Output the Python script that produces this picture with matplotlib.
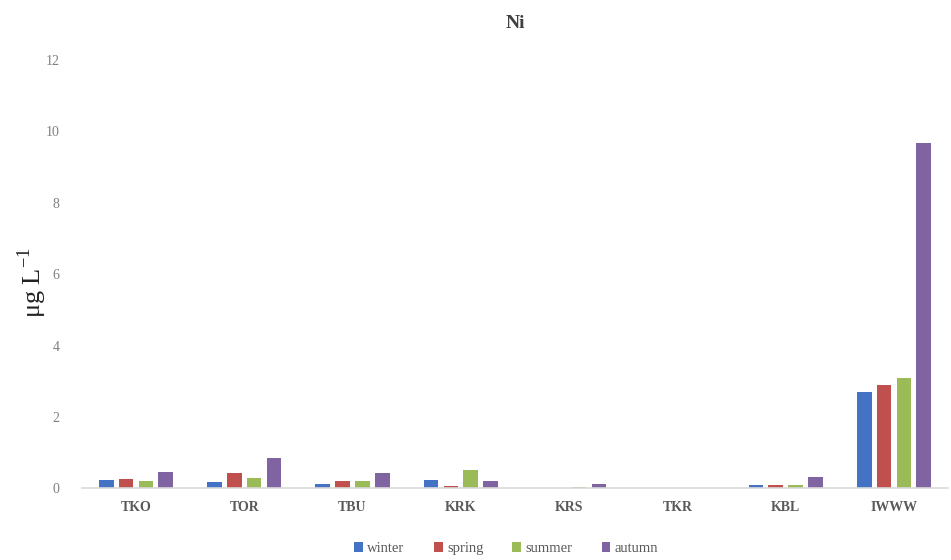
import numpy as np
import matplotlib.pyplot as plt

plt.rcParams["font.family"] = ["Liberation Serif", "DejaVu Serif"]

sites = ["TKO", "TOR", "TBU", "KRK", "KRS", "TKR", "KBL", "IWWW"]
seasons = ["winter", "spring", "summer", "autumn"]
winter = [0.24, 0.19, 0.11, 0.22, 0.0, 0.0, 0.09, 2.70]
spring = [0.25, 0.43, 0.20, 0.06, 0.0, 0.0, 0.09, 2.89]
summer = [0.20, 0.30, 0.20, 0.52, 0.03, 0.0, 0.09, 3.09]
autumn = [0.45, 0.86, 0.43, 0.20, 0.13, 0.0, 0.32, 9.66]
colors = ["#4472C4", "#C0504D", "#9BBB59", "#8064A2"]

fig = plt.figure(figsize=(9.51, 5.6), dpi=100)
ax = fig.add_axes([0.086, 0.128, 0.911, 0.765])

x = np.arange(len(sites))
stride = 0.183
width = 0.135
for i, (vals, name) in enumerate(zip([winter, spring, summer, autumn], seasons)):
    ax.bar(x + (i - 1.5) * stride, vals, width, color=colors[i], label=name)

ax.set_xlim(-0.5, len(sites) - 0.5)
ax.set_ylim(0, 12)
ax.set_yticks(range(0, 13, 2))
ax.set_xticks(x, sites)
for lab in ax.get_xticklabels():
    lab.set_fontweight("bold")
ax.tick_params(axis="x", length=0, pad=9, labelsize=10, labelcolor="#595959")
ax.tick_params(axis="y", length=0, pad=16, labelsize=10, labelcolor="#7f7f7f")

for s in ["top", "right", "left"]:
    ax.spines[s].set_visible(False)
ax.spines["bottom"].set_color("#d9d9d9")
ax.spines["bottom"].set_linewidth(1.2)

ax.set_title("Ni", fontsize=14, fontweight="bold", color="#404040", pad=23)
ax.set_ylabel("μg L$^{\\mathregular{-1}}$", fontsize=19, color="#222222")
ax.yaxis.set_label_coords(-0.038, 0.48)

ax.legend(loc="upper center", bbox_to_anchor=(0.49, -0.095), ncol=4, frameon=False,
          fontsize=10.5, handlelength=0.6, handleheight=0.6, handletextpad=0.3,
          columnspacing=2.0, labelcolor="#595959")

fig.savefig("out.png", dpi=100)
